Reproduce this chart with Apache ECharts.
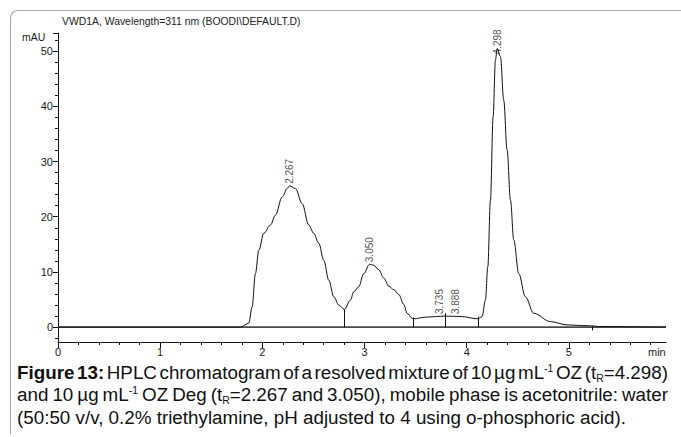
<!DOCTYPE html>
<html>
<head>
<meta charset="utf-8">
<script src="https://cdn.jsdelivr.net/npm/echarts@6/dist/echarts.min.js"></script>
<style>
  html, body { margin: 0; padding: 0; background: #fff; }
  #wrap { position: relative; width: 681px; height: 437px; overflow: hidden; }
  #frame { position: absolute; left: 10px; top: 10px; width: 720px; height: 423px;
           border-top: 1px solid #a8a8a8; border-left: 1px solid #a8a8a8; border-top-left-radius: 8px; }
  #chart { position: absolute; left: 0; top: 0; width: 681px; height: 437px; }
  #caption { position: absolute; left: 17px; top: 362px; transform-origin: 0 0;
             font-family: "Liberation Sans", Arial, sans-serif;
             font-size: 18px; line-height: 22.3px; color: #111; }
  #caption .ln { white-space: nowrap; }
  #caption .j { text-align: justify; text-align-last: justify; }
  #caption sup { font-size: 10px; vertical-align: 7px; line-height: 0; }
  #caption sub { font-size: 10px; vertical-align: -3px; line-height: 0; }
</style>
</head>
<body>
<div id="wrap">
  <div id="frame"></div>
  <div id="chart"></div>
  <div id="caption">
    <div class="ln j"><span><b>Figure 13:</b> HPLC chromatogram of a resolved mixture of 10 µg mL<sup>-1</sup> OZ (t<sub>R</sub>=4.298)</span></div>
    <div class="ln j"><span>and 10 µg mL<sup>-1</sup> OZ Deg (t<sub>R</sub>=2.267 and 3.050), mobile phase is acetonitrile: water</span></div>
    <div class="ln"><span>(50:50 v/v, 0.2% triethylamine, pH adjusted to 4 using o-phosphoric acid).</span></div>
  </div>
</div>
<script>
// Detector trace: retention time (min) and absorbance (mAU)
const retentionTime = [0, 1.0, 1.786, 1.867, 1.900, 1.932, 1.965, 2.014, 2.079, 2.128, 2.194, 2.243, 2.267, 2.324,
  2.389, 2.454, 2.503, 2.552, 2.601, 2.650, 2.699, 2.748, 2.803, 2.862, 2.894, 2.943, 2.992, 3.050, 3.090,
  3.139, 3.188, 3.237, 3.286, 3.335, 3.384, 3.417, 3.466, 3.478, 3.600, 3.790, 3.950, 4.111, 4.150, 4.183,
  4.206, 4.232, 4.258, 4.281, 4.298, 4.330, 4.362, 4.395, 4.428, 4.460, 4.509, 4.574, 4.656, 4.819, 4.982,
  5.240, 5.300, 5.950];
const absorbance = [0, 0, 0, 0.7, 3.7, 9.7, 13.9, 17.0, 18.5, 20.3, 23.6, 25.1, 25.6, 25.1,
  22.4, 18.5, 17.0, 15.2, 12.1, 8.5, 5.5, 4.0, 3.2, 4.9, 6.4, 7.3, 9.7, 11.4, 11.2,
  10.4, 8.9, 7.4, 6.8, 5.9, 4.1, 2.5, 1.6, 1.5, 1.8, 2.0, 1.9, 1.5, 1.9, 4.9,
  10.9, 23.0, 38.1, 48.4, 50.5, 49.0, 41.1, 32.1, 23.0, 15.8, 9.7, 5.5, 2.5, 1.0, 0.4,
  0.2, 0.1, 0];

// Labelled peaks (retention time, apex height)
const peakTimes = [2.267, 3.050, 3.735, 3.888, 4.298];
const peakHeights = [25.6, 11.4, 2.0, 2.0, 50.5];

// Integration event marks: time, lower end, upper end (mAU)
const eventTimes = [2.803, 3.478, 3.790, 4.111, 5.230];
const eventLow = [0, 0, 0, 0, -0.6];
const eventHigh = [3.2, 1.75, 2.5, 1.9, 0.2];

// Axis ranges and ticks
const xRange = [0, 5.95];
const yRange = [-2.7, 53.3];
const xTickLabels = [0, 1, 2, 3, 4, 5];
const yTickLabels = [0, 10, 20, 30, 40, 50];

const xMinor = [];
for (let i = 1; i < 30; i++) { if (i % 5) xMinor.push(+(i * 0.2).toFixed(1)); }
const yMinor = [-2];
for (let v = 2; v < 53; v += 2) { if (v % 10) yMinor.push(v); }

// Caption: condense the type; full lines are justified to the figure width,
// word spacing is tightened where a line would otherwise run past it
(function fitCaption() {
  const cap = document.getElementById('caption');
  const lines = Array.from(cap.querySelectorAll('.ln'));
  const fullWidth = 651, lastWidth = 609;
  const widths = lines.map(l => l.firstElementChild.getBoundingClientRect().width);
  const s = lastWidth / widths[2];
  const boxWidth = fullWidth / s;
  cap.style.width = boxWidth + 'px';
  cap.style.transform = 'scaleX(' + s + ')';
  [0, 1].forEach(i => {
    const over = widths[i] - boxWidth;
    if (over > 0) {
      const spaces = (lines[i].textContent.match(/ /g) || []).length;
      lines[i].style.wordSpacing = (-(over + 1) / spaces) + 'px';
    }
  });
})();

const FONT = 'Liberation Sans';
const chart = echarts.init(document.getElementById('chart'), null, { renderer: 'svg' });

const trace = retentionTime.map((t, i) => [t, absorbance[i]]);
const peaks = peakTimes.map((t, i) => {
  const item = { value: [t, peakHeights[i]] };
  if (t === 4.298) item.label = { offset: [-8, 0] };
  return item;
});
const events = eventTimes.map((t, i) => [
  { coord: [t, eventLow[i]] }, { coord: [t, eventHigh[i]] }
]);

chart.setOption({
  animation: false,
  grid: { left: 58, right: 15, top: 33, bottom: 95 },
  xAxis: [{
    type: 'value', min: xRange[0], max: xRange[1],
    axisLine: { onZero: false, lineStyle: { color: '#111', width: 1 } },
    axisTick: { customValues: xTickLabels, length: 6, lineStyle: { color: '#111' } },
    axisLabel: { customValues: xTickLabels, margin: 4, fontFamily: FONT, fontSize: 11, color: '#222' },
    splitLine: { show: false }
  }, {
    type: 'value', min: xRange[0], max: xRange[1], position: 'bottom', offset: 0,
    axisLine: { show: false, onZero: false },
    axisTick: { customValues: xMinor, length: 3, lineStyle: { color: '#111' } },
    axisLabel: { show: false },
    splitLine: { show: false }
  }],
  yAxis: [{
    type: 'value', min: yRange[0], max: yRange[1],
    axisLine: { show: true, onZero: false, lineStyle: { color: '#111', width: 1 } },
    axisTick: { customValues: yTickLabels.concat([yRange[1]]), length: 5, lineStyle: { color: '#111' } },
    axisLabel: { customValues: yTickLabels, margin: 5, fontFamily: FONT, fontSize: 11, color: '#222' },
    splitLine: { show: false }
  }, {
    type: 'value', min: yRange[0], max: yRange[1], position: 'left', offset: 0,
    axisLine: { show: false, onZero: false },
    axisTick: { customValues: yMinor, length: 3, lineStyle: { color: '#111' } },
    axisLabel: { show: false },
    splitLine: { show: false }
  }],
  graphic: [
    { type: 'text', left: 62, top: 16, style: { text: 'VWD1A, Wavelength=311 nm (BOODI\\DEFAULT.D)', font: '10.4px "Liberation Sans"', fill: '#222' } },
    { type: 'text', left: 22, top: 31, style: { text: 'mAU', font: '10.5px "Liberation Sans"', fill: '#222' } },
    { type: 'text', left: 648, top: 346, style: { text: 'min', font: '11px "Liberation Sans"', fill: '#222' } }
  ],
  series: [{
    // zero baseline
    type: 'line', data: [[xRange[0], 0], [xRange[1], 0]],
    showSymbol: false, silent: true,
    lineStyle: { color: '#4a4a4a', width: 1.6 }, z: 1
  }, {
    type: 'line', data: trace, showSymbol: false,
    smooth: 0.35, smoothMonotone: 'x',
    lineStyle: { color: '#111', width: 1 }, z: 3,
    markLine: {
      silent: true, symbol: ['none', 'none'], label: { show: false },
      lineStyle: { color: '#111', width: 1, type: 'solid' },
      data: events
    }
  }, {
    type: 'scatter', data: peaks, symbolSize: 0, z: 4,
    label: {
      show: true, rotate: 90, position: 'top', distance: 2,
      align: 'left', verticalAlign: 'middle',
      formatter: p => p.value[0].toFixed(3),
      fontFamily: FONT, fontSize: 10, color: '#222'
    }
  }]
});
</script>
</body>
</html>
